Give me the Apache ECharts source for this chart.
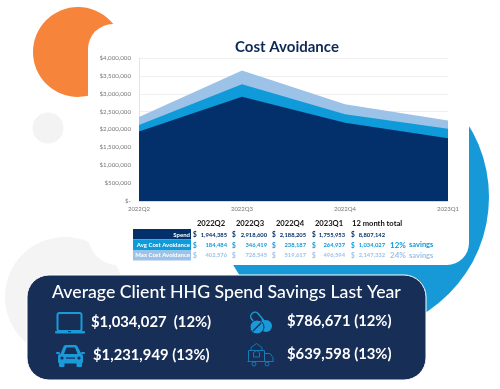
<!DOCTYPE html>
<html><head><meta charset="utf-8">
<style>html,body{margin:0;padding:0;background:#fff}#c{width:500px;height:389px}</style>
<script src="https://cdn.jsdelivr.net/npm/echarts@6/dist/echarts.min.js"></script>
</head><body><div id="c"></div>
<script>
const quarters = ['2022Q2','2022Q3','2022Q4','2023Q1'];
const spend = [1944385,2918600,2188205,1755953];
const avgAvoid = [184484,346419,238187,264937];
const maxAvoid = [402576,728545,519617,496594];
const totals = {spend:8807142, avg:1034027, max:2147332};
const savingsPct = {avg:'12%', max:'24%'};
const panelTitle = 'Average Client HHG Spend Savings Last Year';
const panelStats = ['$1,034,027  (12%)','$1,231,949 (13%)','$786,671 (12%)','$639,598 (13%)'];

const NAVY='#03306a', BLUE='#0f9ad9', LIGHT='#9dc2e7', PANEL='#172e57', ICON='#1a9ad8', F='Lato, sans-serif';
const fmt = n => n.toLocaleString('en-US');
const chart = echarts.init(document.getElementById('c'), null, {renderer:'canvas'});
const els = [];
const add = (o,z) => { o.z = z; o.silent = true; els.push(o); };
const text = (t,x,y,font,fill,align,z=12) => add({type:'text',x,y,style:{text:t,font,fill,textAlign:align||'left',textVerticalAlign:'middle'}},z);
const rect = (x,y,w,h,fill,r,z=11,extra={}) => add({type:'rect',shape:{x,y,width:w,height:h,r:r||0},style:Object.assign({fill},extra)},z);
const circ = (cx,cy,r,fill,z,extra={}) => add({type:'circle',shape:{cx,cy,r},style:Object.assign({fill},extra)},z);
const poly = (points,fill,z=13) => add({type:'polygon',shape:{points},style:{fill}},z);
const pline = (points,stroke,lineWidth,z=13) => add({type:'polyline',shape:{points},style:{fill:'none',stroke,lineWidth}},z);

// background
circ(65,297,60,'#f4f4f4',-10);
circ(48,128,15.5,'#f3f3f3',-10);
circ(352,197,137,'#1899d7',-9);
circ(78,52,45,'#f6843a',-9);
rect(88,24,381,241,'#fff',[25,0,22,30],-8);

// title
text('Cost Avoidance',287,47,'bold 15px '+F,'#0d2a57','center',12);

// table
const colX = [[195,227,211],[234,267,250],[274,306,290],[314,345,329]];
quarters.forEach((q,i)=>text(q,colX[i][2],224,'bold 7.6px '+F,'#111','center'));
text('12 month total',352,224,'bold 7.6px '+F,'#111','left');
const rows = [
 ['Spend',spend,totals.spend,NAVY,NAVY,229,10.5,235],
 ['Avg Cost Avoidance',avgAvoid,totals.avg,BLUE,BLUE,240,10.5,245.5],
 ['Max Cost Avoidance',maxAvoid,totals.max,LIGHT,LIGHT,250.5,10,255.5]
];
rows.forEach(r=>{
  rect(133,r[5],58,r[6],r[3]);
  text(r[0],190,r[7],'bold 6px '+F,'#fff','right');
  r[1].forEach((v,i)=>{
    text('$',colX[i][0],r[7],'bold 6.5px '+F,r[4],'center');
    text(fmt(v),colX[i][1],r[7],'bold 5.8px '+F,r[4],'right');
  });
  text('$',353,r[7],'bold 6.5px '+F,r[4],'center');
  text(fmt(r[2]),385,r[7],'bold 5.8px '+F,r[4],'right');
});
text(savingsPct.avg,390,245,'bold 8px '+F,BLUE,'left');
text('savings',409,245,'bold 7.5px '+F,BLUE,'left');
text(savingsPct.max,390,255.5,'bold 8px '+F,LIGHT,'left');
text('savings',409,255.5,'bold 7.5px '+F,LIGHT,'left');

// panel
rect(27,275,399,105,PANEL,22,11,{stroke:'#fff',lineWidth:1});
text(panelTitle,52,292,'500 17.7px '+F,'#fff','left');
text(panelStats[0],91,322,'bold 14.8px '+F,'#fff','left');
text(panelStats[1],93,355,'bold 14.8px '+F,'#fff','left');
text(panelStats[2],287,321,'bold 14.8px '+F,'#fff','left');
text(panelStats[3],287,354,'bold 14.8px '+F,'#fff','left');

// laptop icon
rect(57.5,313,24,18,'transparent',2,13,{stroke:ICON,lineWidth:2});
rect(55,331,30,2.5,ICON,1,13);
rect(68,331,3,1.2,PANEL,0,14);
// car icon
poly([[60,355],[63.5,346.5],[65,345],[76,345],[77.5,346.5],[82,355]],ICON);
poly([[64,354],[66.5,347.5],[75,347.5],[77.5,354]],PANEL,14);
rect(58,354,25,9.5,ICON,2,13);
rect(59,362,5.5,5,ICON,1,13);
rect(76.5,362,5.5,5,ICON,1,13);
rect(56,352,4,2,ICON,1,13);
rect(81,352,4,2,ICON,1,13);
circ(62,358,1.6,PANEL,14);
circ(79,358,1.6,PANEL,14);
rect(66,357.5,9,1.2,PANEL,0,14);
// pill icon
add({type:'line',shape:{x1:255,y1:316.5,x2:262,y2:325},style:{stroke:ICON,lineWidth:10,lineCap:'round'}},13);
add({type:'line',shape:{x1:255,y1:316.5,x2:258,y2:320},style:{stroke:PANEL,lineWidth:7,lineCap:'round'}},14);
circ(257,327,7,ICON,15,{stroke:PANEL,lineWidth:1});
circ(266,326,6,ICON,14);
add({type:'line',shape:{x1:253,y1:331,x2:261,y2:323},style:{stroke:PANEL,lineWidth:1.2}},16);
// truck icon
const TC='#1679b8';
pline([[248.5,361.5],[248.5,350.5],[264.5,350.5],[264.5,361.5]],TC,1);
pline([[251,350.5],[251,347.5],[256.5,343.5],[262,347.5],[262,350.5]],TC,1);
pline([[253.5,357],[253.5,352.5],[256.5,350.5],[259.5,352.5],[259.5,357],[253.5,357]],TC,1);
pline([[264.5,353.5],[270,353.5],[273,357.5],[273,361.5]],TC,1);
pline([[247.5,361.5],[273.5,361.5]],TC,1);
circ(254,364,2,'none',13,{stroke:TC,lineWidth:1});
circ(267,364,2,'none',13,{stroke:TC,lineWidth:1});

chart.setOption({
  animation:false,
  backgroundColor:'#fff',
  textStyle:{fontFamily:F},
  grid:{left:139,right:52,top:58,bottom:188,containLabel:false},
  xAxis:{type:'category',boundaryGap:false,data:quarters,
    axisLine:{show:true,lineStyle:{color:'#d5d8de',width:1}},
    axisTick:{show:false},splitLine:{show:false},
    axisLabel:{color:'#777',fontSize:6,margin:5,fontFamily:F,hideOverlap:false,showMinLabel:true,showMaxLabel:true,interval:0}},
  yAxis:{type:'value',min:0,max:4000000,interval:500000,
    axisLine:{show:true,lineStyle:{color:'#e3e5e9',width:1}},
    axisTick:{show:false},
    splitLine:{show:true,lineStyle:{color:'#efefef',width:1.2}},
    axisLabel:{color:'#777',fontSize:6.2,margin:8,fontFamily:F,
      formatter:v=>v===0?'$-':'$'+fmt(v)}},
  series:[
    {name:'Max Cost Avoidance',type:'line',data:spend.map((s,i)=>s+maxAvoid[i]),symbol:'none',lineStyle:{width:0},areaStyle:{color:LIGHT,opacity:1},z:2},
    {name:'Avg Cost Avoidance',type:'line',data:spend.map((s,i)=>s+avgAvoid[i]),symbol:'none',lineStyle:{width:0},areaStyle:{color:BLUE,opacity:1},z:3},
    {name:'Spend',type:'line',data:spend,symbol:'none',lineStyle:{width:0},areaStyle:{color:NAVY,opacity:1},z:4}
  ],
  graphic:{elements:els}
});
</script></body></html>
